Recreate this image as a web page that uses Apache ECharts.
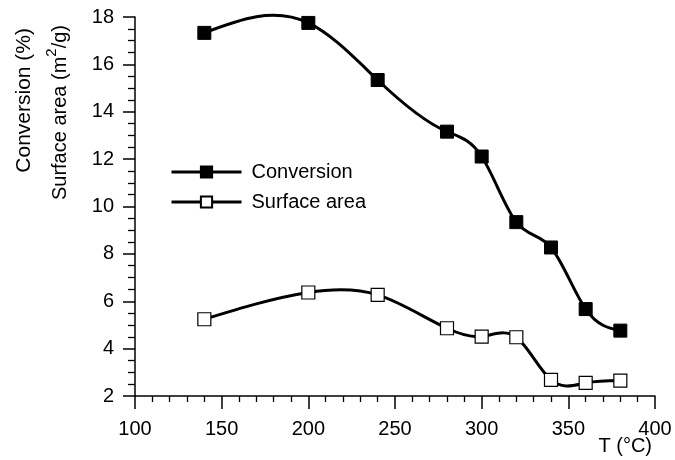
<!DOCTYPE html>
<html>
<head>
<meta charset="utf-8">
<script src="https://cdn.jsdelivr.net/npm/echarts@6/dist/echarts.min.js"></script>
<style>html,body{margin:0;padding:0;background:#fff;}#c{width:675px;height:460px;}</style>
</head>
<body>
<div id="c"></div>
<script>
const temps = [140, 200, 240, 280, 300, 320, 340, 360, 380];
const conversion = [17.33, 17.75, 15.34, 13.16, 12.11, 9.34, 8.27, 5.67, 4.76];
const surfaceArea = [5.24, 6.37, 6.27, 4.86, 4.51, 4.48, 2.68, 2.55, 2.65];
const xMin = 100, xMax = 400, xInterval = 50;
const yMin = 2, yMax = 18, yInterval = 2;
const seriesNames = ['Conversion', 'Surface area'];
const yTitle1 = 'Conversion (%)';
const xTitle = 'T (°C)';

const FONT = '"Liberation Sans", Arial, Helvetica, sans-serif';
const chart = echarts.init(document.getElementById('c'), null, {renderer: 'canvas'});
const pairs = vals => temps.map((t, i) => [t, vals[i]]);

// natural cubic spline slopes (data space) used to shape the smooth curve
function splineSlopes(xs, ys) {
  const n = xs.length;
  const h = [], M = new Array(n).fill(0);
  for (let i = 0; i < n - 1; i++) h.push(xs[i + 1] - xs[i]);
  const a = [], b = [], c = [], d = [];
  for (let i = 1; i < n - 1; i++) {
    a.push(h[i - 1]); b.push(2 * (h[i - 1] + h[i])); c.push(h[i]);
    d.push(6 * ((ys[i + 1] - ys[i]) / h[i] - (ys[i] - ys[i - 1]) / h[i - 1]));
  }
  const m = b.length;
  for (let i = 1; i < m; i++) {
    const w = a[i] / b[i - 1];
    b[i] -= w * c[i - 1]; d[i] -= w * d[i - 1];
  }
  const sol = new Array(m);
  for (let i = m - 1; i >= 0; i--) sol[i] = (d[i] - (i < m - 1 ? c[i] * sol[i + 1] : 0)) / b[i];
  for (let i = 0; i < m; i++) M[i + 1] = sol[i];
  const s = [];
  for (let i = 0; i < n - 1; i++) s.push((ys[i + 1] - ys[i]) / h[i] - h[i] * (2 * M[i] + M[i + 1]) / 6);
  s.push((ys[n - 1] - ys[n - 2]) / h[n - 2] + h[n - 2] * (M[n - 2] + 2 * M[n - 1]) / 6);
  return s;
}

function curveSeries(vals) {
  const slopes = splineSlopes(temps, vals);
  return {
    type: 'custom', coordinateSystem: 'cartesian2d', z: 1, silent: true,
    data: pairs(vals),
    encode: {x: 0, y: 1},
    renderItem: function (params, api) {
      const i = params.dataIndex;
      if (i >= temps.length - 1) return null;
      const x0 = temps[i], x1 = temps[i + 1], y0 = vals[i], y1 = vals[i + 1];
      const hh = (x1 - x0) / 3;
      const p0 = api.coord([x0, y0]);
      const c1 = api.coord([x0 + hh, y0 + slopes[i] * hh]);
      const c2 = api.coord([x1 - hh, y1 - slopes[i + 1] * hh]);
      const p1 = api.coord([x1, y1]);
      return {
        type: 'path',
        shape: {pathData: `M${p0[0]} ${p0[1]} C${c1[0]} ${c1[1]} ${c2[0]} ${c2[1]} ${p1[0]} ${p1[1]}`},
        style: {fill: null, stroke: '#000', lineWidth: 3, lineCap: 'round'}
      };
    }
  };
}

chart.setOption({
  animation: false,
  backgroundColor: '#fff',
  grid: {left: 135, right: 20, top: 17, bottom: 64, containLabel: false, outerBoundsMode: 'none'},
  legend: {
    orient: 'vertical',
    left: 165, top: 157,
    itemWidth: 70, itemHeight: 14, itemGap: 10,
    textStyle: {fontFamily: FONT, fontSize: 20, color: '#000', padding: [0, 0, 0, 5]},
    data: seriesNames.map(n => ({name: n, lineStyle: {opacity: 1, width: 3, color: '#000'}}))
  },
  xAxis: {
    type: 'value', min: xMin, max: xMax, interval: xInterval,
    axisLine: {lineStyle: {color: '#000', width: 1.5}},
    axisTick: {inside: false, length: 13, lineStyle: {color: '#000', width: 1.5}},
    minorTick: {show: true, splitNumber: 5, length: 6, lineStyle: {color: '#000', width: 1.3}},
    axisLabel: {fontFamily: FONT, fontSize: 20, color: '#000', margin: 23},
    splitLine: {show: false}
  },
  yAxis: {
    type: 'value', min: yMin, max: yMax, interval: yInterval,
    axisLine: {show: true, lineStyle: {color: '#000', width: 1.5}},
    axisTick: {show: true, inside: false, length: 12, lineStyle: {color: '#000', width: 1.5}},
    minorTick: {show: true, splitNumber: 4, length: 7, lineStyle: {color: '#000', width: 1.3}},
    axisLabel: {fontFamily: FONT, fontSize: 20, color: '#000', margin: 21},
    splitLine: {show: false}
  },
  graphic: [
    {type: 'text', x: 24, y: 28, rotation: Math.PI / 2,
     style: {text: yTitle1, font: '21px ' + FONT, fill: '#000', align: 'right', verticalAlign: 'middle'}},
    {type: 'text', x: 57, y: 25, rotation: Math.PI / 2,
     style: {text: '{n|Surface area (m}{s|2}{n|/g)}', fill: '#000', align: 'right', verticalAlign: 'middle',
       rich: {n: {fontFamily: FONT, fontSize: 20, lineHeight: 26, verticalAlign: 'bottom'},
              s: {fontFamily: FONT, fontSize: 15, lineHeight: 26, verticalAlign: 'top'}}}},
    {type: 'text', x: 652, y: 436,
     style: {text: xTitle, font: '20px ' + FONT, fill: '#000', align: 'right', verticalAlign: 'top'}}
  ],
  series: [
    curveSeries(conversion),
    curveSeries(surfaceArea),
    {
      name: seriesNames[0], type: 'line', z: 3,
      data: pairs(conversion),
      symbol: 'rect', symbolSize: 13,
      lineStyle: {color: '#000', width: 3, opacity: 0},
      itemStyle: {color: '#000', borderColor: '#000', borderWidth: 1}
    },
    {
      name: seriesNames[1], type: 'line', z: 3,
      data: pairs(surfaceArea),
      symbol: 'rect', symbolSize: 13,
      lineStyle: {color: '#000', width: 3, opacity: 0},
      itemStyle: {color: '#fff', borderColor: '#000', borderWidth: 1.2}
    }
  ]
});
</script>
</body>
</html>
